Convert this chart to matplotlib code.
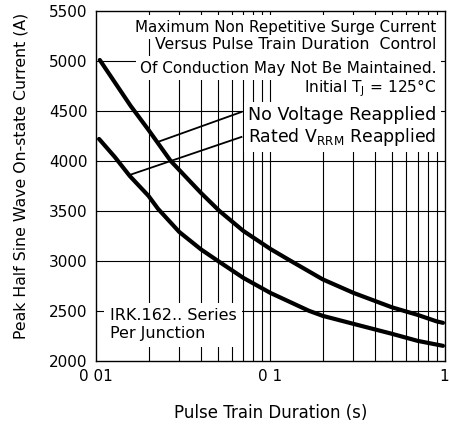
import matplotlib.pyplot as plt
import numpy as np

# Pulse train duration (s) and peak current (A)
t_upper = [0.0105, 0.0158, 0.02, 0.0268, 0.03, 0.04, 0.051, 0.07, 0.1, 0.128, 0.2, 0.3, 0.5, 0.7, 0.9, 0.98]
i_upper = [5010, 4550, 4310, 4000, 3910, 3680, 3500, 3300, 3120, 3010, 2815, 2680, 2535, 2460, 2395, 2380]

t_lower = [0.0104, 0.0128, 0.0156, 0.02, 0.0227, 0.03, 0.04, 0.05, 0.07, 0.1, 0.167, 0.2, 0.3, 0.5, 0.7, 0.98]
i_lower = [4220, 4040, 3850, 3650, 3520, 3290, 3115, 3000, 2830, 2680, 2500, 2450, 2370, 2270, 2200, 2150]

y_ticks = [2000, 2500, 3000, 3500, 4000, 4500, 5000, 5500]
x_tick_pos = [0.01, 0.1, 1]
x_tick_labels = ['0 01', '0 1', '1']

fig = plt.figure(figsize=(4.49, 4.24), dpi=100)
ax = fig.add_axes([0.214, 0.149, 0.776, 0.825])

ax.set_xscale('log')
ax.set_xlim(0.01, 1)
ax.set_ylim(2000, 5500)

# grid: vertical lines at every minor decade step, horizontal every 500
for d in [0.01, 0.1]:
    for k in range(2, 10):
        ax.axvline(d * k, color='black', lw=0.8, zorder=1)
ax.axvline(0.1, color='black', lw=0.8, zorder=1)
for y in y_ticks[1:-1]:
    ax.axhline(y, color='black', lw=0.8, zorder=1)

ax.plot(t_upper, i_upper, color='black', lw=3, zorder=3, solid_joinstyle='round',
        solid_capstyle='round')
ax.plot(t_lower, i_lower, color='black', lw=3, zorder=3, solid_joinstyle='round',
        solid_capstyle='round')

ax.set_xticks(x_tick_pos)
ax.set_xticklabels(x_tick_labels)
ax.xaxis.set_minor_locator(plt.NullLocator())
ax.set_yticks(y_ticks)
ax.tick_params(length=0, labelsize=11, pad=6)
for s in ax.spines.values():
    s.set_linewidth(1.0)

tx = 0.977
lines = [
    (0.954, 'Maximum Non Repetitive Surge Current', 10.9),
    (0.903, 'Versus Pulse Train Duration  Control', 11.3),
    (0.837, 'Of Conduction May Not Be Maintained.', 11.0),
    (0.780, 'Initial T$_\\mathregular{J}$ = 125°C', 11.1),
    (0.703, 'No Voltage Reapplied', 12.6),
    (0.640, 'Rated V$_\\mathregular{RRM}$ Reapplied', 12.4),
]
for yy, s, fs in lines:
    # white patch behind the line (drawn first so it never hides other text)
    ax.text(tx, yy, s, transform=ax.transAxes, ha='right', va='center',
            fontsize=fs, color='none', zorder=4,
            bbox=dict(facecolor='white', edgecolor='none', pad=3.2))
for yy, s, fs in lines:
    ax.text(tx, yy, s, transform=ax.transAxes, ha='right', va='center',
            fontsize=fs, zorder=6)

ax.text(0.04, 0.103, 'IRK.162.. Series\nPer Junction', transform=ax.transAxes,
        ha='left', va='center', fontsize=11.5, linespacing=1.25,
        bbox=dict(facecolor='white', edgecolor='none', pad=4), zorder=4)

# leader lines from labels to curves
ax.plot([0.0226, 0.0683], [4190, 4490], color='black', lw=1.3, zorder=5)
ax.plot([0.0156, 0.0683], [3860, 4240], color='black', lw=1.3, zorder=5)

ax.set_xlabel('Pulse Train Duration (s)', fontsize=12, labelpad=14)
ax.set_ylabel('Peak Half Sine Wave On-state Current (A)', fontsize=11.3)
ax.yaxis.set_label_coords(-0.195, 0.53)

fig.savefig('out.png', dpi=100)
